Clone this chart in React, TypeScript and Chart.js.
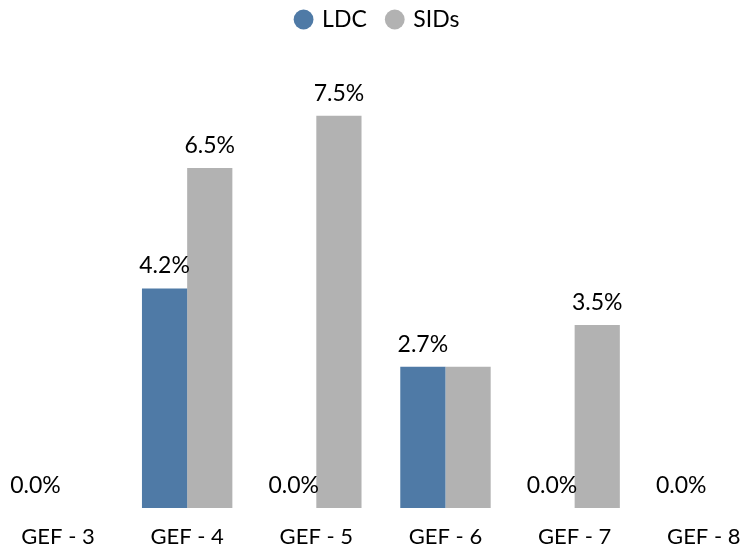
import React, { useEffect, useRef } from "react";
import { Chart, registerables } from "chart.js";

Chart.register(...registerables);

const categories = ["GEF - 3", "GEF - 4", "GEF - 5", "GEF - 6", "GEF - 7", "GEF - 8"];
const ldcValues: (number | null)[] = [0.0, 4.2, 0.0, 2.7, 0.0, 0.0];
const sidsValues: (number | null)[] = [null, 6.5, 7.5, 2.7, 3.5, null];
const seriesNames = ["LDC", "SIDs"];

const FONT = "Lato, 'Open Sans', sans-serif";

const valueLabels = {
  id: "valueLabels",
  afterDatasetsDraw(chart: any) {
    const ctx = chart.ctx;
    ctx.save();
    ctx.font = `23px ${FONT}`;
    ctx.fillStyle = "#000";
    ctx.textAlign = "center";
    ctx.textBaseline = "bottom";
    const drawn: { l: number; r: number; t: number; b: number }[] = [];
    chart.data.datasets.forEach((ds: any, di: number) => {
      const meta = chart.getDatasetMeta(di);
      meta.data.forEach((bar: any, i: number) => {
        const v = ds.data[i];
        if (v === null || v === undefined) return;
        const text = v.toFixed(1) + "%";
        const w = ctx.measureText(text).width;
        const y = bar.y - 11;
        const box = { l: bar.x - w / 2, r: bar.x + w / 2, t: y - 24, b: y };
        if (drawn.some((d) => box.l < d.r && box.r > d.l && box.t < d.b && box.b > d.t)) return;
        drawn.push(box);
        ctx.fillText(text, bar.x, y);
      });
    });
    ctx.restore();
  },
};

export default function App() {
  const ref = useRef<HTMLCanvasElement>(null);
  useEffect(() => {
    if (!ref.current) return;
    const chart = new Chart(ref.current, {
      type: "bar",
      data: {
        labels: categories,
        datasets: [
          { label: seriesNames[0], data: ldcValues, backgroundColor: "#4F7AA6", borderWidth: 0 },
          { label: seriesNames[1], data: sidsValues, backgroundColor: "#B2B2B2", borderWidth: 0 },
        ],
      },
      options: {
        animation: false,
        responsive: false,
        maintainAspectRatio: false,
        layout: { padding: { left: 8, right: 0, top: -13, bottom: -6.5 } },
        datasets: { bar: { categoryPercentage: 0.7, barPercentage: 1, skipNull: false } },
        plugins: {
          tooltip: { enabled: false },
          legend: {
            position: "top",
            labels: {
              usePointStyle: true,
              pointStyle: "circle",
              boxWidth: 14,
              boxHeight: 14,
              padding: 21,
              color: "#000",
              font: { family: FONT, size: 23, lineHeight: 1 },
            },
          },
        },
        scales: {
          x: {
            offset: false,
            grid: { display: false },
            border: { display: false },
            ticks: { color: "#000", padding: 7.5, font: { family: FONT, size: 22 }, maxRotation: 0, autoSkip: false },
          },
          y: {
            display: true,
            position: "left",
            min: 0,
            max: 8.93,
            grid: { display: false },
            border: { display: false },
            ticks: { display: false },
            afterFit: (s: any) => { s.width = 50; },
          },
          yRight: {
            type: "linear",
            display: true,
            position: "right",
            grid: { display: false },
            border: { display: false },
            ticks: { display: false },
            afterFit: (s: any) => { s.width = 34; },
          },
        },
      },
      plugins: [valueLabels],
    });
    return () => chart.destroy();
  }, []);
  return (
    <div style={{ position: "fixed", left: 0, top: 0, width: 748, height: 551, overflow: "hidden", background: "#fff" }}>
      <canvas ref={ref} width={748} height={551} style={{ width: 748, height: 551, display: "block" }} />
    </div>
  );
}
